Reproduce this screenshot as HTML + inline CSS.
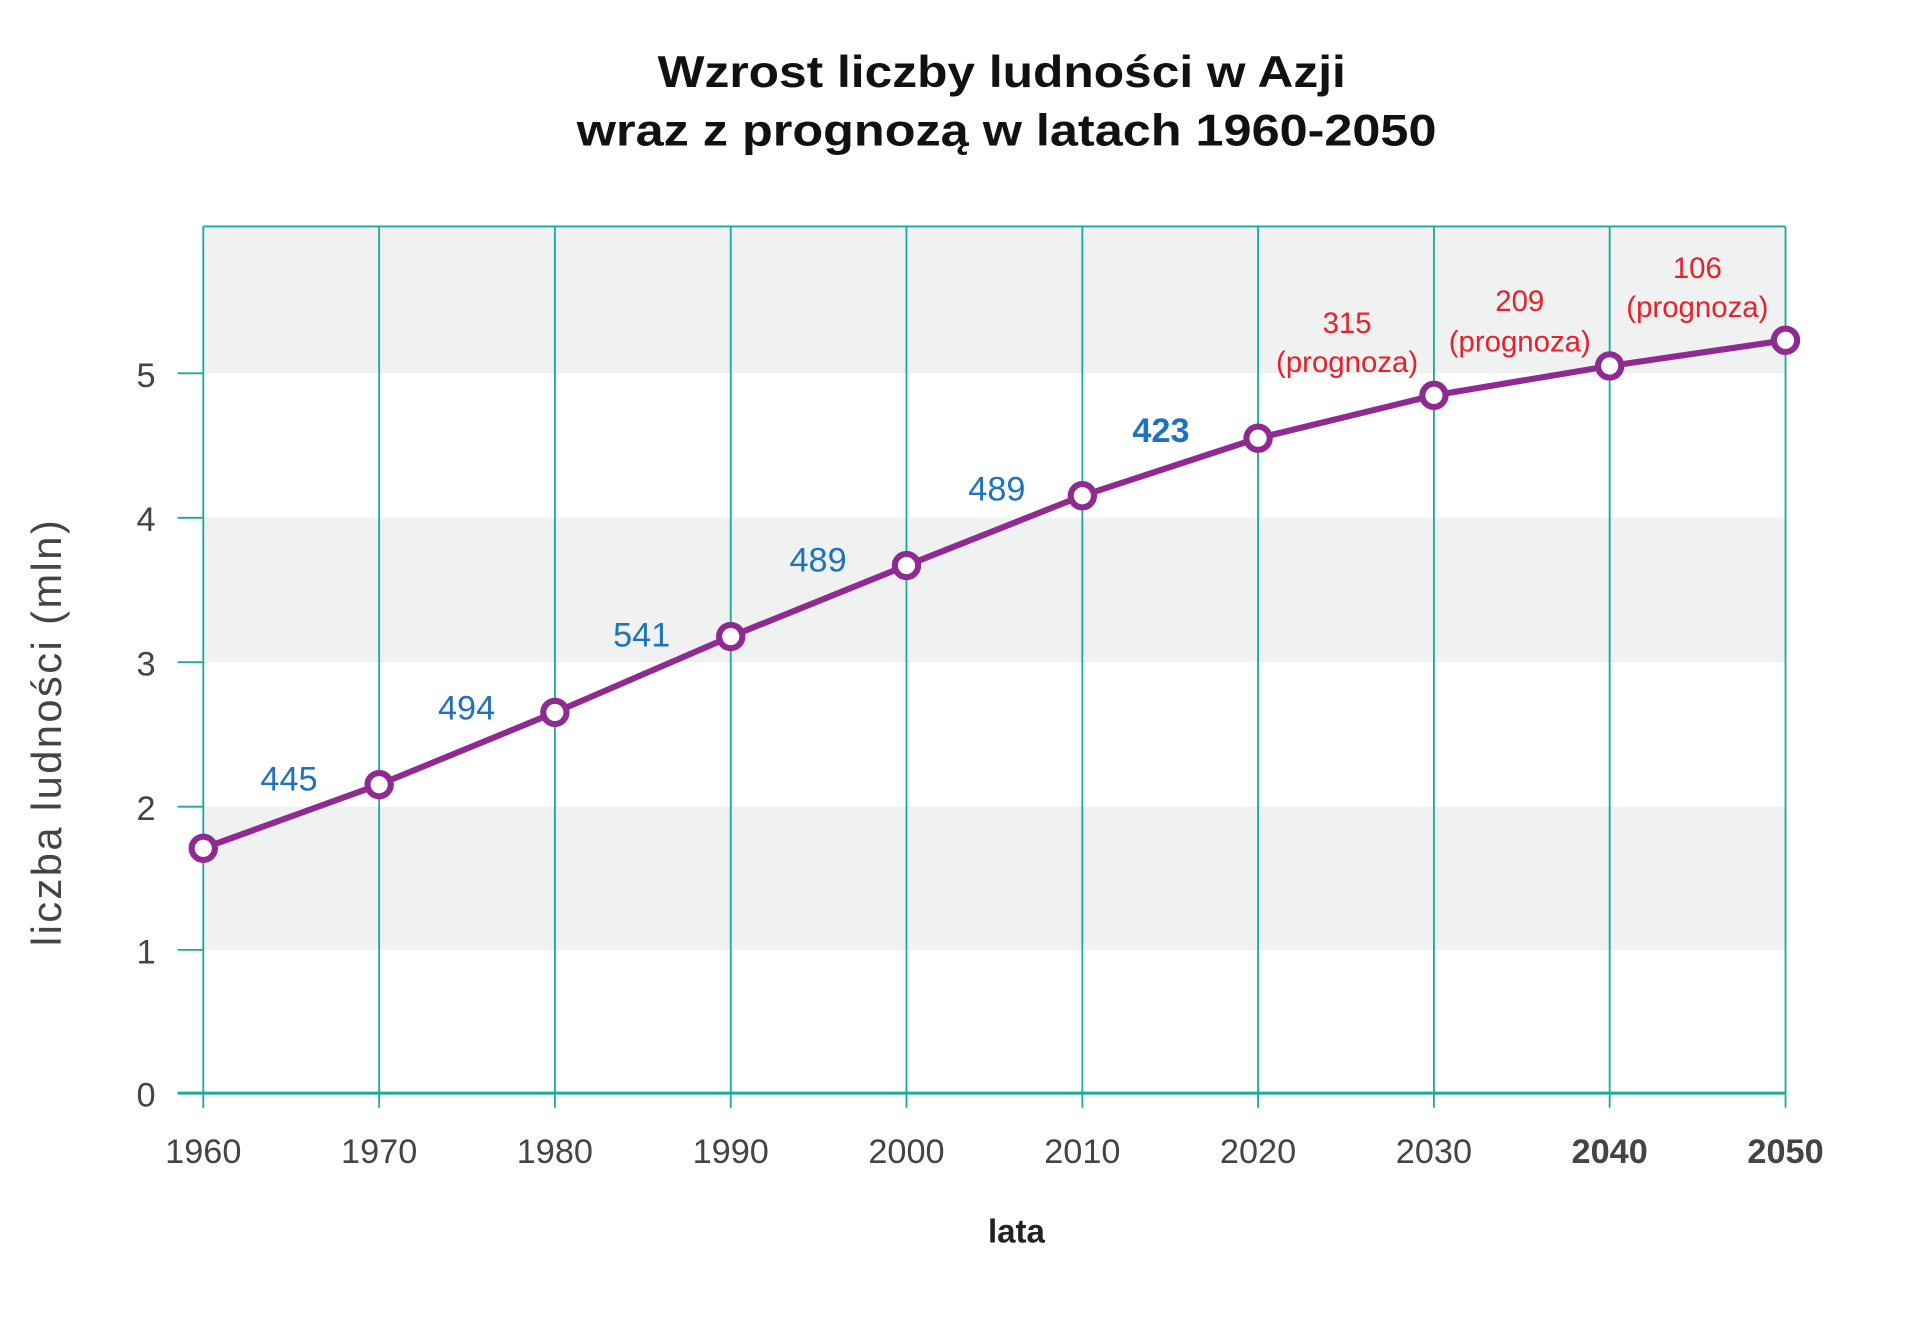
<!DOCTYPE html>
<html><head><meta charset="utf-8"><style>
html,body{margin:0;padding:0;background:#fff;}
svg{display:block;}
text{font-family:"Liberation Sans","DejaVu Sans",sans-serif;}
</style></head><body>
<svg width="1919" height="1322" viewBox="0 0 1567 1080" preserveAspectRatio="none" xmlns="http://www.w3.org/2000/svg">
<rect width="1567" height="1080" fill="#fff"/>
<text x="818" y="71" text-anchor="middle" font-size="36" font-weight="bold" fill="#111" textLength="562" lengthAdjust="spacingAndGlyphs">Wzrost liczby ludności w Azji</text>
<text x="822" y="119" text-anchor="middle" font-size="36" font-weight="bold" fill="#111" textLength="702" lengthAdjust="spacingAndGlyphs">wraz z prognozą w latach 1960-2050</text>
<rect x="166" y="185" width="1292" height="120" fill="#f0f1f1"/>
<rect x="166" y="423" width="1292" height="118" fill="#f0f1f1"/>
<rect x="166" y="659" width="1292" height="117" fill="#f0f1f1"/>
<g stroke="#1aab9b" stroke-width="1.5">
<line x1="166" y1="185" x2="1458" y2="185"/>
<line x1="145" y1="893" x2="1458" y2="893" stroke-width="2.5"/>
<line x1="145" y1="305" x2="166" y2="305"/>
<line x1="145" y1="423" x2="166" y2="423"/>
<line x1="145" y1="541" x2="166" y2="541"/>
<line x1="145" y1="659" x2="166" y2="659"/>
<line x1="145" y1="776" x2="166" y2="776"/>
<line x1="166" y1="185" x2="166" y2="905"/>
<line x1="309.6" y1="185" x2="309.6" y2="905"/>
<line x1="453.1" y1="185" x2="453.1" y2="905"/>
<line x1="596.7" y1="185" x2="596.7" y2="905"/>
<line x1="740.2" y1="185" x2="740.2" y2="905"/>
<line x1="883.8" y1="185" x2="883.8" y2="905"/>
<line x1="1027.3" y1="185" x2="1027.3" y2="905"/>
<line x1="1170.9" y1="185" x2="1170.9" y2="905"/>
<line x1="1314.4" y1="185" x2="1314.4" y2="905"/>
<line x1="1458" y1="185" x2="1458" y2="905"/>
</g>
<g font-size="28" fill="#444" text-anchor="end">
<text x="127" y="316">5</text><text x="127" y="434">4</text><text x="127" y="552">3</text>
<text x="127" y="670">2</text><text x="127" y="787">1</text><text x="127" y="904">0</text>
</g>
<g font-size="28" fill="#444" text-anchor="middle">
<text x="166" y="950">1960</text><text x="309.6" y="950">1970</text><text x="453.1" y="950">1980</text>
<text x="596.7" y="950">1990</text><text x="740.2" y="950">2000</text><text x="883.8" y="950">2010</text>
<text x="1027.3" y="950">2020</text><text x="1170.9" y="950">2030</text>
<text x="1314.4" y="950" font-weight="bold">2040</text><text x="1458" y="950" font-weight="bold">2050</text>
</g>
<text x="830" y="1015" text-anchor="middle" font-size="27" font-weight="bold" fill="#222">lata</text>
<text transform="translate(50,598) rotate(-90)" text-anchor="middle" font-size="34" fill="#444" letter-spacing="2">liczba ludności (mln)</text>
<g font-size="28" fill="#1f73bb" text-anchor="middle">
<text x="236" y="646">445</text><text x="381" y="588">494</text><text x="524" y="528">541</text>
<text x="668" y="467">489</text><text x="814" y="409">489</text><text x="948" y="361" font-weight="bold">423</text>
</g>
<g font-size="24" fill="#e8202a" text-anchor="middle">
<text x="1100" y="272">315</text><text x="1100" y="304">(prognoza)</text>
<text x="1241" y="254">209</text><text x="1241" y="287">(prognoza)</text>
<text x="1386" y="227">106</text><text x="1386" y="259">(prognoza)</text>
</g>
<polyline fill="none" stroke="#8e2a91" stroke-width="5" stroke-linejoin="round"
points="166,693 309.6,641 453.1,582 596.7,520 740.2,462 883.8,405 1027.3,358 1170.9,323 1314.4,299 1458,278"/>
<g fill="#fff" stroke="#8e2a91" stroke-width="5">
<circle cx="166" cy="693" r="9.5"/><circle cx="309.6" cy="641" r="9.5"/><circle cx="453.1" cy="582" r="9.5"/>
<circle cx="596.7" cy="520" r="9.5"/><circle cx="740.2" cy="462" r="9.5"/><circle cx="883.8" cy="405" r="9.5"/>
<circle cx="1027.3" cy="358" r="9.5"/><circle cx="1170.9" cy="323" r="9.5"/><circle cx="1314.4" cy="299" r="9.5"/>
<circle cx="1458" cy="278" r="9.5"/>
</g>
</svg>
</body></html>
